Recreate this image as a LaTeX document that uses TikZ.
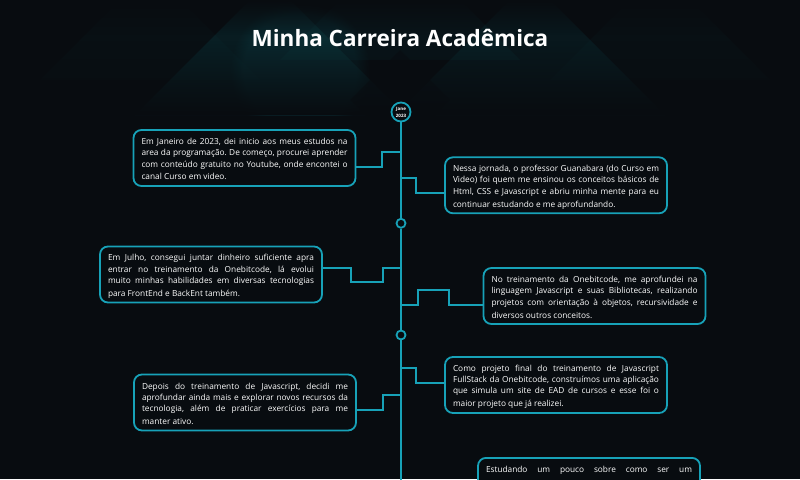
\documentclass[tikz,border=0pt]{standalone}
\usepackage{fontspec}
\setmainfont{Open Sans}
\usetikzlibrary{fadings}
\definecolor{bg}{HTML}{080C10}
\definecolor{tl}{HTML}{17A2B8}
\definecolor{glow}{HTML}{0E4A52}
\tikzfading[name=fadeup, top color=transparent!100, bottom color=transparent!0]
\tikzfading[name=fadedown, top color=transparent!0, bottom color=transparent!100]
\frenchspacing
\newcommand\cstrut{\rule[-1.4pt]{0pt}{11.3pt}}
\newcommand\jl[1]{{\spaceskip=0pt\xspaceskip=0pt\makebox[206pt][s]{#1}}}
\newcommand\lastl[1]{{\spaceskip=0pt\xspaceskip=0pt #1}}
\tikzset{
 card/.style={draw=tl, line width=1.8pt, rounded corners=8pt, fill=bg, text=white,
   text width=206pt, align=left, inner xsep=8pt, inner ysep=0pt, minimum height=56pt,
   font=\fontsize{8.3}{11.3}\selectfont\frenchspacing,
   execute at begin node=\cstrut, execute at end node=\cstrut},
 conn/.style={draw=tl, line width=1.8pt},
 dot/.style={circle, draw=tl, line width=1.8pt, fill=bg, minimum size=9pt, inner sep=0pt},
}
\begin{document}
\begin{tikzpicture}[x=1pt,y=-1pt]
\useasboundingbox (0,0) rectangle (800,479);
\fill[bg] (0,0) rectangle (800,479);
% header pattern
\begin{scope}
\clip (0,0) rectangle (800,115);
\fill[glow, opacity=0.26] (270,-20) -- (405,115) -- (135,115) -- cycle;
\fill[glow, opacity=0.2] (530,-20) -- (665,115) -- (395,115) -- cycle;
\fill[glow, opacity=0.14] (400,-60) -- (520,60) -- (280,60) -- cycle;
\fill[glow, opacity=0.07] (150,-30) -- (260,80) -- (40,80) -- cycle;
\fill[glow, opacity=0.07] (660,-30) -- (770,80) -- (550,80) -- cycle;
\fill[glow, opacity=0.25, path fading=circle with fuzzy edge 20 percent] (300,70) circle (70);
\fill[bg, opacity=0.5] (400,50) -- (450,100) -- (400,150) -- (350,100) -- cycle;
\fill[bg, path fading=fadedown] (0,0) rectangle (800,35);
\fill[bg, path fading=fadeup] (0,40) rectangle (800,115);
\end{scope}
\node[font=\fontsize{22.5}{27}\selectfont\bfseries, text=white, anchor=base] (title) at (400,46) {Minha Carreira Acadêmica};
% timeline
\node[circle, draw=tl, line width=1.8pt, fill=bg, minimum size=19pt, inner sep=0pt, text=white,
  font=\fontsize{4.5}{7}\selectfont\bfseries, align=center] (c0) at (401,112) {Jane\\2023};
\node[dot] (c1) at (401,223.3) {};
\node[dot] (c2) at (401,335) {};
\coordinate (tend) at (401,485);
\draw[conn] (c0.south) -- (c1.north);
\draw[conn] (c1.south) -- (c2.north);
\draw[conn] (c2.south) -- (tend);
% cards
\node[card] (b1) at (244.5,158) {\jl{Em Janeiro de 2023, dei inicio aos meus estudos na}\\\jl{area da programação. De começo, procurei aprender}\\\jl{com conteúdo gratuito no Youtube, onde encontei o}\\\lastl{canal Curso em video.}};
\node[card] (b2) at (556,185.3) {\jl{Nessa jornada, o professor Guanabara (do Curso em}\\\jl{Video) foi quem me ensinou os conceitos básicos de}\\\jl{Html, CSS e Javascript e abriu minha mente para eu}\\\lastl{continuar estudando e me aprofundando.}};
\node[card] (b3) at (211,274.5) {\jl{Em Julho, consegui juntar dinheiro suficiente apra}\\\jl{entrar no treinamento da Onebitcode, lá evolui}\\\jl{muito minhas habilidades em diversas tecnologias}\\\lastl{para FrontEnd e BackEnt também.}};
\node[card] (b4) at (594.5,296) {\jl{No treinamento da Onebitcode, me aprofundei na}\\\jl{linguagem Javascript e suas Bibliotecas, realizando}\\\jl{projetos com orientação à objetos, recursividade e}\\\lastl{diversos outros conceitos.}};
\node[card] (b5) at (245,402.5) {\jl{Depois do treinamento de Javascript, decidi me}\\\jl{aprofundar ainda mais e explorar novos recursos da}\\\jl{tecnologia, além de praticar exercícios para me}\\\lastl{manter ativo.}};
\node[card] (b6) at (556,385) {\jl{Como projeto final do treinamento de Javascript}\\\jl{FullStack da Onebitcode, construímos uma aplicação}\\\jl{que simula um site de EAD de cursos e esse foi o}\\\lastl{maior projeto que já realizei.}};
\node[card, anchor=north, minimum height=0pt, inner ysep=5pt] (b7) at (589,457) {\jl{Estudando um pouco sobre como ser um}\\\mbox{}\\\mbox{}};
% connectors
\draw[conn] (b1.east |- 0,167) -| (382,152) -- (c0 |- 0,152);
\draw[conn] (c0 |- 0,178) -| (416,193) -- (b2.west |- 0,193);
\draw[conn] (b3.east |- 0,268) -| (351,282) -| (383,268) -- (c1 |- 0,268);
\draw[conn] (c1 |- 0,305) -| (418,290) -| (449,305) -- (b4.west |- 0,305);
\draw[conn] (b5.east |- 0,410) -| (383,395) -- (c2 |- 0,395);
\draw[conn] (c2 |- 0,368) -| (416,383) -- (b6.west |- 0,383);
\end{tikzpicture}
\end{document}
